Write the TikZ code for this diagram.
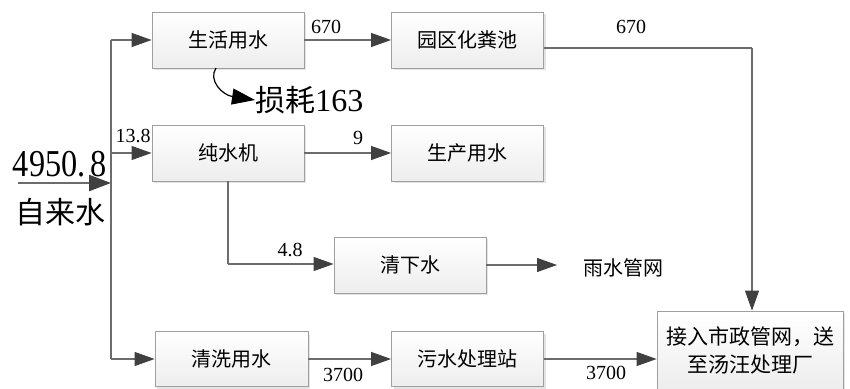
\documentclass[tikz,border=0pt]{standalone}
\usepackage{fontspec}
\setmainfont{Liberation Serif}
\newfontfamily\cjk{Noto Sans CJK SC}
\usetikzlibrary{arrows.meta,shadows}
\begin{document}
\begin{tikzpicture}[x=0.5pt,y=-0.5pt,
  box/.style={draw=gray!75, top color=white, bottom color=gray!14, minimum width=76pt, minimum height=28pt, inner sep=0pt,
    font=\cjk\fontsize{10}{13}\selectfont, drop shadow={shadow xshift=1.2pt, shadow yshift=-1.2pt, fill=gray!35, opacity=0.6}},
  line/.style={draw=gray!85!black, line width=0.55pt},
  con/.style={line, -{Triangle[length=10pt,width=7pt,color=black!75]}},
  lab/.style={font=\fontsize{10}{12}\selectfont, inner sep=1pt},
  big/.style={font=\fontsize{19}{20}\selectfont, inner sep=0pt}]
\useasboundingbox (0,0) rectangle (850,389);
% boxes
\node[box] (A) at (228,40) {生活用水};
\node[box] (B) at (467.5,40) {园区化粪池};
\node[box] (C) at (228,153) {纯水机};
\node[box] (D) at (467.5,153) {生产用水};
\node[box] (E) at (410,265) {清下水};
\node[box, minimum width=76.5pt, minimum height=27.5pt] (F) at (231.5,359) {清洗用水};
\node[box, minimum height=27.5pt] (G) at (467.5,359) {污水处理站};
\node[box, minimum width=93pt, minimum height=39pt, align=center, font=\cjk\fontsize{10.5}{14}\selectfont] (H) at (750,350) {接入市政管网，送\\至汤汪处理厂};
% free text
\node[font=\cjk\fontsize{10}{12}\selectfont, inner sep=0pt] (R) at (623,268) {雨水管网};
\node[big] (in) at (60,164) {\scalebox{0.85}[1]{4950.\,8}};
\node[font=\cjk\fontsize{15}{18}\selectfont, inner sep=0pt] (src) at (60,212) {自来水};
\node[inner sep=0pt, anchor=west] (L) at (255,100) {\fontsize{15}{18}\cjk 损耗\fontsize{16}{18}\rmfamily 163};
% junctions
\coordinate (s0) at (18,183);
\coordinate (j) at (111,183);
\coordinate (jA) at (111,40);
\coordinate (jC) at (111,153);
\coordinate (jF) at (111,359);
\coordinate (kB) at (752,48);
\coordinate (kE) at (228,264);
\coordinate (rE) at (557,265);
% connectors
\draw[line, line width=1.2pt, -{Triangle[length=11pt,width=8pt,color=black!75]}] (s0) -- (j);
\draw[line] (jA) -- (jF);
\draw[con] (jA) -- (A.west);
\draw[con] (jC) -- (C.west);
\draw[con] (jF) -- (F.west);
\draw[con] (A.east) -- (B.west);
\draw[line] (B.east |- kB) -- (kB);
\draw[con] (kB) -- (H.north -| kB);
\draw[con] (C.east) -- (D.west);
\draw[line] (C.south) -- (kE);
\draw[con] (kE) -- (E.west |- kE);
\draw[con] (E.east) -- (rE);
\draw[con] (F.east) -- (G.west);
\draw[con] (G.east) -- (H.west |- G.east);
\draw[black, line width=0.6pt, -{Triangle[length=11.5pt,width=8pt]}] (216,68) .. controls (208,80) and (222,95) .. (L.west);
% flow labels
\node[lab] at (326,27) {670};
\node[lab] at (631,27) {670};
\node[lab] at (133,136) {13.8};
\node[lab] at (358,138) {9};
\node[lab] at (290,250) {4.8};
\node[lab] at (343,375) {3700};
\node[lab] at (606,373) {3700};
\end{tikzpicture}
\end{document}
